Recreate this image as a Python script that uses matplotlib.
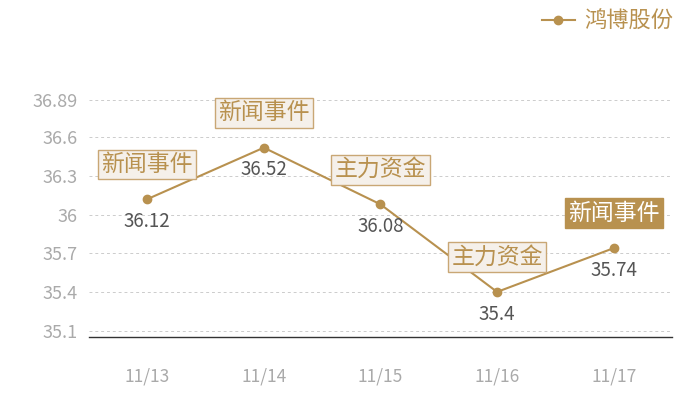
import matplotlib
matplotlib.use("Agg")
import matplotlib.pyplot as plt

plt.rcParams['font.family'] = ['Noto Sans CJK SC', 'DejaVu Sans']

dates = ["11/13", "11/14", "11/15", "11/16", "11/17"]
prices = [36.12, 36.52, 36.08, 35.4, 35.74]
events = ["新闻事件", "新闻事件", "主力资金", "主力资金", "新闻事件"]
highlight = [False, False, False, False, True]
yticks = [35.1, 35.4, 35.7, 36, 36.3, 36.6, 36.89]
series_name = "鸿博股份"

GOLD = "#b8914f"
BOX_FILL = "#f5f0ea"
BOX_EDGE = "#c9a775"

fig = plt.figure(figsize=(7, 4), dpi=100)
ax = fig.add_axes([0.127, 0.1575, 0.833, 0.5925])

x = list(range(len(dates)))
ax.plot(x, prices, color=GOLD, linewidth=1.5, marker="o", markersize=6,
        label=series_name, zorder=3)

for xi, yi, ev, hl in zip(x, prices, events, highlight):
    ax.annotate(f"{yi:g}", (xi, yi), xytext=(0, -16), textcoords="offset points",
                ha="center", va="center", fontsize=13.5, color="#555555", zorder=4)
    if hl:
        bbox = dict(boxstyle="square,pad=0.15", facecolor=GOLD, edgecolor=GOLD, linewidth=1)
        tc = "white"
    else:
        bbox = dict(boxstyle="square,pad=0.15", facecolor=BOX_FILL, edgecolor=BOX_EDGE, linewidth=1)
        tc = GOLD
    ax.annotate(ev, (xi, yi), xytext=(0, 25), textcoords="offset points",
                ha="center", va="center", fontsize=16.5, color=tc, bbox=bbox, zorder=5)

ax.set_xlim(-0.5, len(dates) - 0.5)
ax.set_ylim(35.05, 36.89)
ax.set_xticks(x)
ax.set_xticklabels(dates)
ax.set_yticks(yticks)
ax.set_yticklabels([f"{v:g}" for v in yticks])
ax.tick_params(axis="x", length=0, pad=22, labelsize=12.5, labelcolor="#aaaaaa")
ax.tick_params(axis="y", length=0, pad=8, labelsize=13, labelcolor="#aaaaaa")
ax.grid(axis="y", color="#cccccc", linestyle=(0, (3, 3)), linewidth=0.7)
ax.set_axisbelow(True)
for s in ["top", "right", "left"]:
    ax.spines[s].set_visible(False)
ax.spines["bottom"].set_color("#333333")
ax.spines["bottom"].set_linewidth(1)

fig.legend(loc="upper right", bbox_to_anchor=(0.99, 1.025), frameon=False,
           fontsize=16, labelcolor=GOLD, handlelength=1.5, handletextpad=0.4)

fig.savefig("out.png", dpi=100)
